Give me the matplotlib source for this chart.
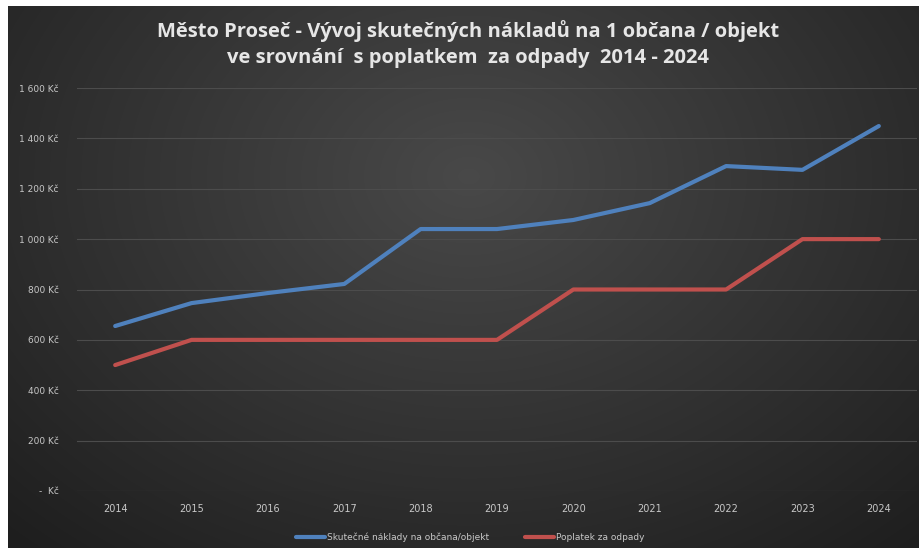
import matplotlib.pyplot as plt
import numpy as np

years = ["2014", "2015", "2016", "2017", "2018", "2019", "2020", "2021", "2022", "2023", "2024"]
naklady = [655, 746, 786, 822, 1040, 1040, 1076, 1143, 1290, 1275, 1449]
poplatek = [500, 600, 600, 600, 600, 600, 800, 800, 800, 1000, 1000]
yticks = [0, 200, 400, 600, 800, 1000, 1200, 1400, 1600]
ylabels = ["-  Kč", "200 Kč", "400 Kč", "600 Kč", "800 Kč", "1 000 Kč", "1 200 Kč", "1 400 Kč", "1 600 Kč"]

W, H = 922, 548
fig = plt.figure(figsize=(W / 100, H / 100), dpi=100)
fig.patch.set_facecolor("white")

# radial gradient background
bg = fig.add_axes([8 / W, 0, 910 / W, 542 / H])
bg.set_axis_off()
yy, xx = np.mgrid[0:542, 0:910]
r = np.sqrt(((xx - 460) / 600.0) ** 2 + ((yy - 170) / 450.0) ** 2)
val = np.clip(0.285 - 0.15 * r, 0.12, 0.3)
bg.imshow(np.dstack([val, val, val]), aspect="auto", extent=[0, 1, 0, 1], zorder=0)

ax = fig.add_axes([77 / W, (H - 491) / H, 840 / W, 403 / H])
ax.patch.set_alpha(0)
x = np.arange(len(years))
ax.plot(x, naklady, color="#4f81bd", lw=3, solid_capstyle="round", label="Skutečné náklady na občana/objekt")
ax.plot(x, poplatek, color="#c0504d", lw=3, solid_capstyle="round", label="Poplatek za odpady")

ax.set_xlim(-0.5, len(years) - 0.5)
ax.set_ylim(0, 1600)
ax.set_yticks(yticks)
ax.set_yticklabels(ylabels)
ax.set_xticks(x)
ax.set_xticklabels(years)
ax.tick_params(axis="both", length=0, colors="#c8c8c8", labelsize=7)
ax.tick_params(axis="y", pad=13, labelsize=6.5)
ax.tick_params(axis="x", pad=9)
ax.grid(axis="y", color="#4c4c4c", lw=0.8)
for s in ax.spines.values():
    s.set_visible(False)

fig.text(468 / W, 1 - 31 / H, "Město Proseč - Vývoj skutečných nákladů na 1 občana / objekt",
         ha="center", va="center", fontsize=14.5, fontweight="bold", color="#e6e6e6", family="Open Sans")
fig.text(468 / W, 1 - 58 / H, "ve srovnání  s poplatkem  za odpady  2014 - 2024",
         ha="center", va="center", fontsize=14.5, fontweight="bold", color="#e6e6e6", family="Open Sans")

leg = fig.legend(loc="center", bbox_to_anchor=(470 / W, 1 - 537 / H), ncol=2, frameon=False,
                 fontsize=6.5, labelcolor="#c8c8c8", handlelength=3.2, handletextpad=0.2, columnspacing=4)

fig.savefig("out.png", dpi=100)
